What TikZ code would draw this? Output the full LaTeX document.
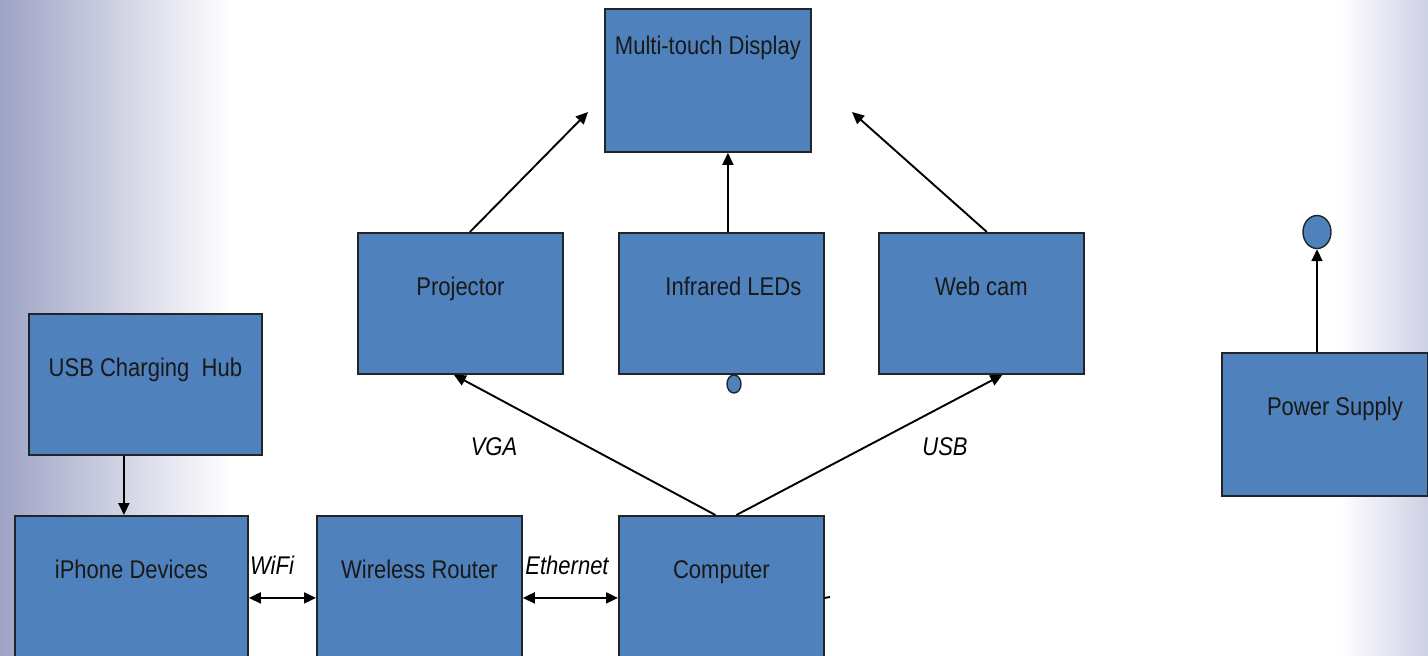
\documentclass[tikz,border=0pt]{standalone}
\usepackage{fontspec}
\setmainfont{Liberation Sans}[FakeStretch=0.86]
\usepackage{xcolor}
\usepackage{tikz}
\usetikzlibrary{arrows.meta,shapes.geometric,positioning}
\definecolor{boxblue}{HTML}{4F81BD}
\definecolor{boxline}{HTML}{222428}
\definecolor{edgeblue}{HTML}{9EA3C6}
\definecolor{edgeblue2}{HTML}{CDD0E4}
\tikzset{
  blk/.style={draw=boxline,line width=0.9pt,fill=boxblue,anchor=north west,
    minimum width=102.5pt,inner ysep=0pt,text height=31.5pt,text depth=39pt,
    font=\fontsize{12.8}{15}\selectfont,text=black!90},
  pin/.style={ellipse,draw=boxline,line width=0.7pt,fill=boxblue,inner sep=0pt},
  flow/.style={line width=0.95pt,-{Triangle[length=6pt,width=5.5pt]}},
  both/.style={line width=0.95pt,{Triangle[length=6pt,width=5.5pt]}-{Triangle[length=6pt,width=5.5pt]}},
  lbl/.style={font=\itshape\fontsize{12.8}{15}\selectfont,inner sep=0pt}
}
\begin{document}
\begin{tikzpicture}[x=0.5pt,y=-0.5pt]
\useasboundingbox (0,0) rectangle (1428,655);
\clip (0,0) rectangle (1428,655);
% soft bluish margins
\fill[white] (0,0) rectangle (1428,655);
\shade[left color=edgeblue,right color=white] (0,0) rectangle (230,655);
\shade[left color=white,right color=edgeblue2] (1340,0) rectangle (1428,655);

% blocks
\node[blk,minimum width=103pt,text height=23pt,text depth=48.5pt] (disp) at (604,8) {Multi-touch Display};
\node[blk] (proj) at (357,232) {Projector};
\node[blk] (ir) at (618,232) {\hspace{12pt}Infrared LEDs};
\node[blk] (cam) at (878,232) {Web cam};
\node[blk,minimum width=116.5pt] (hub) at (28,313) {USB Charging~~Hub};
\node[blk,minimum width=116.5pt] (iph) at (14,515) {iPhone Devices};
\node[blk] (rtr) at (316,515) {Wireless Router};
\node[blk] (comp) at (618,515) {Computer};
\node[blk,minimum width=103pt,text depth=40pt] (psu) at (1221,352) {\hspace{10pt}Power Supply};

\node[pin,minimum width=7pt,minimum height=9pt] (irpin) at (734,384) {};
\node[pin,minimum width=14pt,minimum height=16.5pt] (pwrpin) at (1317,232) {};

% free ends beside the display
\coordinate (dispL) at (588,112);
\coordinate (dispR) at (852,112);
\coordinate (stub) at (830,597);

\draw[flow] ([xshift=4.75pt]proj.north) -- (dispL);
\draw[flow] ([xshift=3.25pt]ir.north) -- ([xshift=3.25pt]ir.north |- disp.south);
\draw[flow] ([xshift=2.75pt]cam.north) -- (dispR);
\draw[flow] ([xshift=-3pt]comp.north) -- ([xshift=-3.25pt]proj.south);
\draw[flow] ([xshift=7.5pt]comp.north) -- ([xshift=10.5pt]cam.south);
\draw[flow] ([xshift=-3.75pt]iph.north |- hub.south) -- ([xshift=-3.75pt]iph.north);
\draw[flow] (pwrpin |- psu.north) -- (pwrpin.south);
\draw[both] ([yshift=-5.75pt]iph.east) -- ([yshift=-5.75pt]rtr.west);
\draw[both] ([yshift=-5.75pt]rtr.east) -- ([yshift=-5.75pt]comp.west);
\draw[line width=0.95pt] ([yshift=-5.75pt]comp.east) -- (stub);

\node[lbl] (vga) at (494,447) {VGA};
\node[lbl] (usb) at (945,447) {USB};
\node[lbl] (wifi) at (272,565) {WiFi};
\node[lbl] (eth) at (567,565) {Ethernet};
\end{tikzpicture}
\end{document}
